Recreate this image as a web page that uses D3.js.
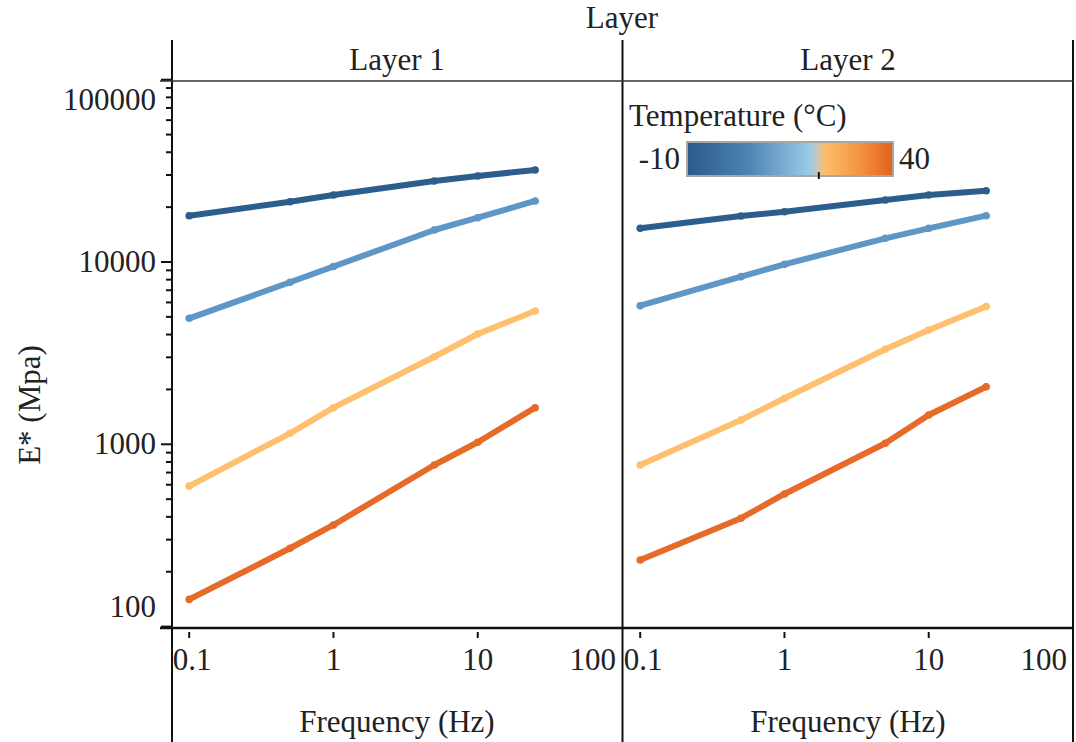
<!DOCTYPE html>
<html><head><meta charset="utf-8">
<script src="https://cdn.jsdelivr.net/npm/d3@7"></script>
<style>body{margin:0;background:#fff}svg{display:block}</style>
</head><body>
<svg id="c" width="1076" height="742" font-family="'Liberation Serif', 'Times New Roman', Tinos, 'DejaVu Serif', serif"></svg>
<script>
// ---- data ----
const layers = ["Layer 1", "Layer 2"];
const frequencies = [0.1, 0.5, 1, 5, 10, 25];
const temperatures = [-10, 4.4, 21.1, 37.8];
const layer1Values = [
  [17950, 21420, 23310, 27820, 29630, 31960],
  [4910, 7740, 9450, 14980, 17500, 21610],
  [590, 1149, 1588, 3023, 4027, 5386],
  [141, 269, 361, 770, 1026, 1588]
];
const layer2Values = [
  [15300, 17880, 18870, 21880, 23310, 24610],
  [5760, 8310, 9710, 13490, 15300, 17950],
  [770, 1360, 1788, 3320, 4236, 5700],
  [232, 393, 534, 1013, 1448, 2070]
];
const yTickValues = [100, 1000, 10000, 100000];
const xTickValues = [0.1, 1, 10, 100];
const legendDomain = [-10, 40];
const legendTick = 22;

// ---- style ----
const seriesColors = ["#2c5d8c", "#5e96c6", "#fec06f", "#e66a28"];
const gradStops = [[0, "#2a5a89"], [0.3, "#4d84b6"], [0.6, "#9ccbe6"], [0.635, "#cbc6b4"], [0.67, "#fdbd6e"], [0.85, "#f3903c"], [1, "#e2601c"]];
const FS = 31;
const FONT = "'Liberation Serif', 'Times New Roman', Tinos, 'DejaVu Serif', serif";

const svg = d3.select("#c");
const T = (x, yy, s) => svg.append("text").attr("x", x).attr("y", yy).attr("font-size", FS)
  .attr("font-family", FONT).attr("fill", "#222").text(s);
const panelLeft = [172, 623], panelW = 450;
const frameTop = 81, frameBottom = 628;
const y = d3.scaleLog().domain([100, 100000]).range([626.6, 79.7]);

// top title
T(622, 28, "Layer").attr("text-anchor", "middle");

// frame lines
[172, 622.5, 1073].forEach(x => svg.append("line").attr("x1", x).attr("x2", x).attr("y1", 40).attr("y2", 742).attr("stroke", "#111").attr("stroke-width", 2));
svg.append("line").attr("x1", 160).attr("x2", 1073).attr("y1", frameTop).attr("y2", frameTop).attr("stroke", "#333").attr("stroke-width", 1.5);
svg.append("line").attr("x1", 160).attr("x2", 1073).attr("y1", frameBottom).attr("y2", frameBottom).attr("stroke", "#111").attr("stroke-width", 2.5);

// y axis ticks
const minor = [];
for (let e = 2; e <= 4; e++) for (let m = 2; m <= 9; m++) minor.push(m * Math.pow(10, e));
minor.forEach(v => svg.append("line").attr("x1", 166).attr("x2", 171).attr("y1", y(v)).attr("y2", y(v)).attr("stroke", "#111").attr("stroke-width", 2));
yTickValues.forEach((v, i) => {
  svg.append("line").attr("x1", 161).attr("x2", 171).attr("y1", y(v)).attr("y2", y(v)).attr("stroke", "#111").attr("stroke-width", 2);
  let off = 10;
  if (i === 0) off = -10;
  if (i === yTickValues.length - 1) off = 30;
  T(156, y(v) + off, String(v)).attr("text-anchor", "end");
});
T(0, 0, "E* (Mpa)").attr("transform", "translate(40,405) rotate(-90)").attr("text-anchor", "middle");

const allValues = [layer1Values, layer2Values];
layers.forEach((name, p) => {
  const x0 = panelLeft[p];
  const x = d3.scaleLog().domain([0.076, 100]).range([x0, x0 + panelW]);
  T(x0 + panelW / 2, 70, name).attr("text-anchor", "middle");
  xTickValues.forEach((v, i) => {
    const last = i === xTickValues.length - 1;
    if (!last)
      svg.append("line").attr("x1", x(v)).attr("x2", x(v)).attr("y1", 632).attr("y2", 638).attr("stroke", "#111").attr("stroke-width", 2);
    T(last ? x(v) - 6 : x(v) + (i === 0 ? 3 : 0), 670, String(v)).attr("text-anchor", last ? "end" : "middle");
  });
  T(x0 + panelW / 2, 732, "Frequency (Hz)").attr("text-anchor", "middle");
  const line = d3.line().x((d, i) => x(frequencies[i])).y(d => y(d));
  allValues[p].forEach((vals, s) => {
    svg.append("path").attr("d", line(vals)).attr("fill", "none").attr("stroke", seriesColors[s])
      .attr("stroke-width", 6).attr("stroke-linecap", "round").attr("stroke-linejoin", "round");
    svg.append("g").selectAll("circle").data(vals).join("circle")
      .attr("cx", (d, i) => x(frequencies[i])).attr("cy", d => y(d)).attr("r", 3.8).attr("fill", seriesColors[s]);
  });
});

// legend
const defs = svg.append("defs");
const grad = defs.append("linearGradient").attr("id", "tg").attr("x1", "0%").attr("x2", "100%");
gradStops.forEach(s => grad.append("stop").attr("offset", s[0]).attr("stop-color", s[1]));
const lx = d3.scaleLinear().domain(legendDomain).range([687, 893]);
T(629, 126, "Temperature (°C)");
svg.append("rect").attr("x", lx(legendDomain[0])).attr("y", 142).attr("width", lx(legendDomain[1]) - lx(legendDomain[0])).attr("height", 34)
  .attr("fill", "url(#tg)").attr("stroke", "#a9a69c").attr("stroke-width", 2);
svg.append("line").attr("x1", lx(legendTick)).attr("x2", lx(legendTick)).attr("y1", 172).attr("y2", 179).attr("stroke", "#111").attr("stroke-width", 2);
T(680, 169, String(legendDomain[0])).attr("text-anchor", "end");
T(899, 169, String(legendDomain[1]));
</script>
</body></html>
